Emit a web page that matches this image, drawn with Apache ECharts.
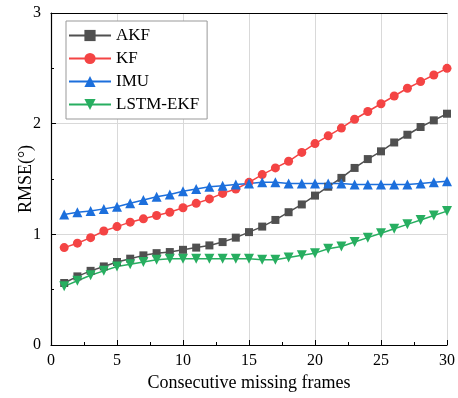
<!DOCTYPE html>
<html>
<head>
<meta charset="utf-8">
<script src="https://cdn.jsdelivr.net/npm/echarts@6/dist/echarts.min.js"></script>
<style>
  html, body { margin: 0; padding: 0; background: #fff; }
  #chart { width: 458px; height: 398px; }
</style>
</head>
<body>
<div id="chart"></div>
<script>
// frames 1..30
const frames = Array.from({ length: 30 }, (_, i) => i + 1);

const akf = [0.56, 0.62, 0.67, 0.71, 0.75, 0.78, 0.81, 0.83, 0.84, 0.86,
  0.88, 0.90, 0.93, 0.97, 1.02, 1.07, 1.13, 1.20, 1.27, 1.35,
  1.43, 1.51, 1.60, 1.68, 1.75, 1.83, 1.90, 1.97, 2.03, 2.09];
const kf = [0.88, 0.92, 0.97, 1.03, 1.07, 1.11, 1.14, 1.17, 1.20, 1.24,
  1.28, 1.32, 1.37, 1.41, 1.47, 1.54, 1.60, 1.66, 1.74, 1.82,
  1.89, 1.96, 2.04, 2.11, 2.18, 2.25, 2.32, 2.38, 2.44, 2.50];
const imu = [1.18, 1.20, 1.21, 1.23, 1.25, 1.28, 1.31, 1.34, 1.36, 1.39,
  1.41, 1.43, 1.44, 1.45, 1.46, 1.47, 1.47, 1.46, 1.46, 1.46,
  1.46, 1.46, 1.45, 1.45, 1.45, 1.45, 1.45, 1.46, 1.47, 1.48];
const lstmEkf = [0.53, 0.58, 0.63, 0.67, 0.71, 0.73, 0.75, 0.77, 0.78, 0.78,
  0.78, 0.78, 0.78, 0.78, 0.78, 0.77, 0.77, 0.79, 0.81, 0.83,
  0.87, 0.89, 0.93, 0.97, 1.01, 1.05, 1.09, 1.13, 1.17, 1.21];

const font = 'Liberation Serif';

const mk = (name, data, color, symbol, size) => ({
  name: name,
  type: 'line',
  data: frames.map((f, i) => [f, data[i]]),
  symbol: symbol,
  symbolSize: size,
  lineStyle: { color: color, width: 1.5 },
  itemStyle: { color: color },
});

const myChart = echarts.init(document.getElementById('chart'));
myChart.setOption({
  animation: false,
  grid: { left: 51, right: 9, top: 13, bottom: 53 },
  legend: {
    left: 66,
    top: 21,
    orient: 'vertical',
    padding: [6, 8, 6, 2],
    itemGap: 6,
    itemWidth: 42,
    itemHeight: 14,
    borderColor: '#999',
    borderWidth: 1,
    backgroundColor: '#fff',
    textStyle: { fontFamily: font, fontSize: 17, color: '#000' },
  },
  xAxis: [{
    type: 'value',
    min: 0, max: 30, interval: 5,
    name: 'Consecutive missing frames',
    nameLocation: 'middle',
    nameGap: 29,
    nameTextStyle: { fontFamily: font, fontSize: 18, color: '#000' },
    axisLine: { lineStyle: { color: '#000', width: 1.2 } },
    axisTick: { inside: true, length: 5, lineStyle: { color: '#000' } },
    minorTick: { show: true, splitNumber: 2, length: 3, lineStyle: { color: '#000' } },
    axisLabel: { fontFamily: font, fontSize: 16, color: '#000', margin: 8 },
    splitLine: { show: true, lineStyle: { color: '#d9d9d9' } },
  }, {
    type: 'value',
    position: 'top',
    min: 0, max: 30,
    axisLine: { show: true, lineStyle: { color: '#000', width: 1.2 } },
    axisTick: { show: false },
    axisLabel: { show: false },
    splitLine: { show: false },
  }],
  yAxis: {
    type: 'value',
    min: 0, max: 3, interval: 1,
    name: 'RMSE(°)',
    nameLocation: 'middle',
    nameGap: 16,
    nameMoveOverlap: false,
    nameTextStyle: { fontFamily: font, fontSize: 18, color: '#000' },
    axisLine: { show: true, lineStyle: { color: '#000', width: 1.2 } },
    axisTick: { show: true, inside: true, length: 5, lineStyle: { color: '#000' } },
    minorTick: { show: true, splitNumber: 2, length: 3, lineStyle: { color: '#000' } },
    axisLabel: { fontFamily: font, fontSize: 16, color: '#000', margin: 10 },
    splitLine: { show: true, lineStyle: { color: '#d9d9d9' } },
  },
  series: [
    mk('AKF', akf, '#505050', 'rect', 8),
    mk('KF', kf, '#f44444', 'circle', 9),
    mk('IMU', imu, '#1c6fdc', 'triangle', 10),
    mk('LSTM-EKF', lstmEkf, '#27ae60', 'path://M0,0L10,0L5,9Z', 10),
  ],
});
window.addEventListener('resize', () => {
  myChart.resize();
});
</script>
</body>
</html>
